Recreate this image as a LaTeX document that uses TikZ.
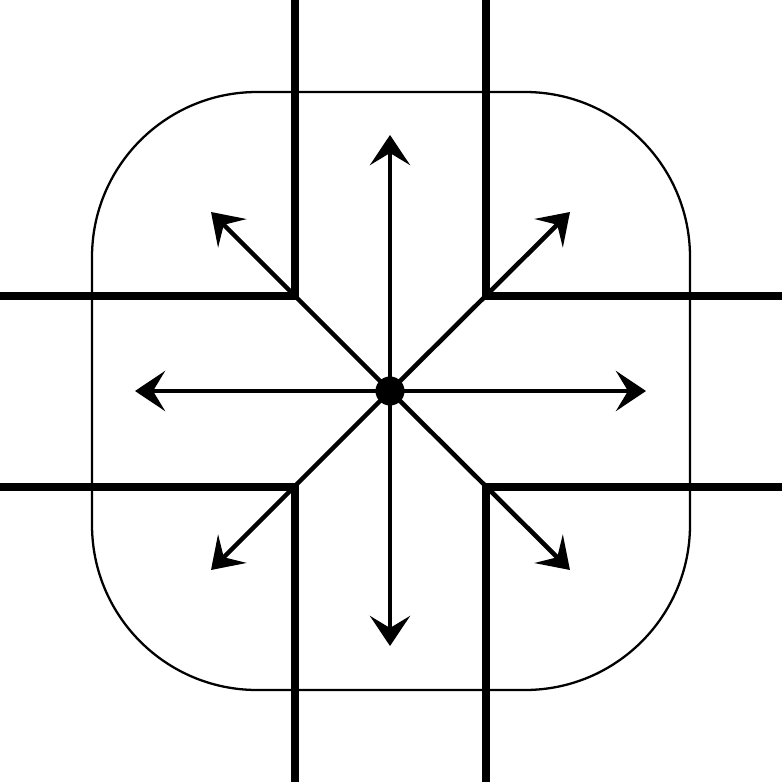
\documentclass[tikz,border=0pt]{standalone}
\usetikzlibrary{arrows.meta}

\begin{document}
\begin{tikzpicture}[x=0.01cm,y=-0.01cm,
    street/.style={line width=2pt,line cap=rect},
    dir/.style={-{Stealth[length=3mm,width=4mm,inset=1.2mm]},line width=1.3pt}]
    \useasboundingbox (0,0) rectangle (781,782);
    %area
    \draw[line width=0.65pt,rounded corners=1.65cm](92,92) rectangle (690,690);
    %streets
    \draw[street](295,0)--(295,296)--(0,296);
    \draw[street](486,0)--(486,296)--(781,296);
    \draw[street](0,487)--(295,487)--(295,782);
    \draw[street](781,487)--(486,487)--(486,782);
    %center and ends
    \coordinate (c) at (390,391);
    \coordinate (n) at (390,135);
    \coordinate (s) at (390,646);
    \coordinate (w) at (135,391);
    \coordinate (e) at (646,391);
    \coordinate (nw) at (211,212);
    \coordinate (ne) at (570,212);
    \coordinate (sw) at (211,570);
    \coordinate (se) at (570,570);
    %arrows
    \draw[dir](c)--(n);
    \draw[dir](c)--(s);
    \draw[dir](c)--(w);
    \draw[dir](c)--(e);
    \draw[dir](c)--(nw);
    \draw[dir](c)--(ne);
    \draw[dir](c)--(sw);
    \draw[dir](c)--(se);
    \fill (c) circle[radius=0.145cm];
\end{tikzpicture}
\end{document}
